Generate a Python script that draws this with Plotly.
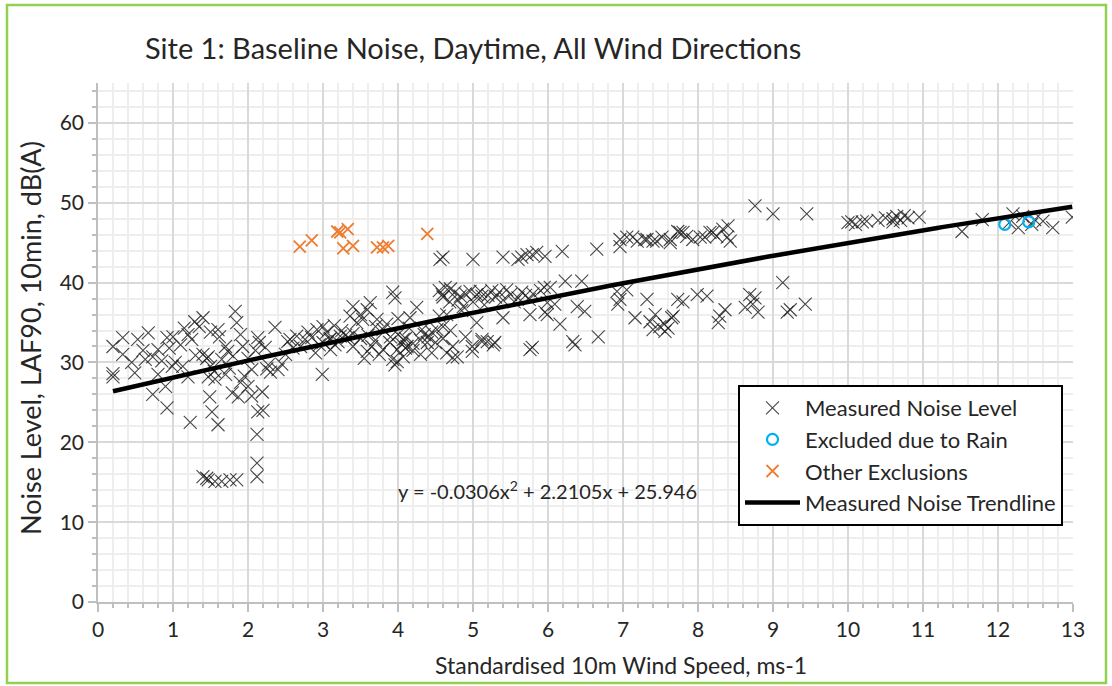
import numpy as np
import plotly.graph_objects as go

# ---------------- data ----------------
measured_x = [
    0.2, 0.2, 0.2, 0.33, 0.33, 0.49, 0.53, 0.67, 0.63, 0.73, 0.8, 0.73, 0.92, 0.92, 0.99, 0.9, 0.45, 0.6, 0.85, 0.95, 0.8, 1.0,
    1.03, 1.13, 1.23, 1.2, 1.29, 1.4, 1.25, 1.47, 1.47, 1.49, 1.52, 1.6, 1.6, 1.56, 1.65, 1.73, 1.83, 1.85, 1.93, 1.79, 1.87,
    2.0, 2.05, 2.13, 2.19, 2.13, 2.12, 2.12, 2.12, 2.27, 2.36, 2.23, 2.4, 2.53,
    1.4, 1.47, 1.56, 1.65, 1.76, 1.85, 1.45,
    1.3, 1.4, 1.45, 1.5, 1.55, 1.7, 1.75, 1.8, 1.35, 1.5, 1.1, 1.15, 1.9, 2.0, 2.1, 1.95, 2.25, 2.3, 2.45, 2.5, 1.62, 1.7,
    1.2, 2.05, 2.15, 1.9, 2.2,
    2.99, 2.56, 2.65, 2.76, 2.85, 2.92, 3.0, 3.05, 3.09, 3.16, 3.23, 3.33, 3.36, 3.4, 3.45, 3.53, 3.59, 3.63, 3.72, 3.8, 3.89,
    3.93, 3.96, 3.99, 4.07, 4.12, 4.16, 4.25, 4.32, 4.39, 4.45, 4.52, 3.99, 3.59, 3.8, 4.07, 3.93, 3.96,
    3.0, 3.1, 3.2, 3.3, 3.5, 3.6, 3.7, 3.9, 4.0, 4.1, 4.2, 4.3, 4.4, 4.5, 4.6,
    2.7, 2.8, 2.95, 3.15, 3.25, 3.4, 3.5, 3.7, 3.85, 4.0, 4.1, 4.2, 4.3, 4.35, 4.45, 4.15, 3.75, 3.65, 3.55, 4.05, 3.1, 3.4,
    2.6, 2.9,
    4.56, 4.6, 5.0, 4.59, 4.63, 4.69, 4.76, 4.83, 4.87, 4.96, 5.05, 5.12, 4.73, 4.79, 4.99, 5.12, 4.65, 4.73, 4.99, 5.12,
    5.27, 5.79, 5.19, 5.29, 5.76,
    4.55, 4.6, 4.7, 4.8, 4.9, 5.0, 5.1, 5.2, 5.3, 5.4, 5.5, 5.6, 5.7, 5.75, 5.8, 5.25, 5.35, 5.45, 5.55, 5.65, 4.85, 4.65, 5.15,
    5.4, 5.6, 5.65, 5.72, 5.79, 5.85, 5.96, 5.4, 5.76, 5.96, 5.99, 5.99, 5.9, 5.95, 4.6, 4.7, 4.9, 5.05, 4.55,
    6.19, 6.65, 6.03, 6.09, 6.16, 6.23, 6.39, 6.45, 6.49, 6.33, 6.36, 6.67, 6.92, 6.93, 7.05, 7.16, 7.32, 7.36, 7.43, 7.49,
    7.56, 7.65, 7.73, 7.4, 6.96,
    6.96, 6.96, 7.05, 7.13, 7.19, 7.29, 7.32, 7.4, 7.45, 7.52, 7.63, 7.63, 7.73, 7.76, 7.8, 7.85, 7.93, 8.03, 8.09, 8.16,
    8.2, 8.25, 8.33, 8.4, 8.43, 8.39,
    7.8, 7.99, 8.12, 7.67, 8.29, 8.27, 8.36, 8.63, 8.69, 8.76, 8.73, 8.8, 7.55, 7.6,
    8.76, 9.0, 9.45, 9.13, 9.19, 9.23, 9.43,
    10.05, 10.0, 10.1, 10.19, 10.25, 10.4, 10.5, 10.6, 10.65, 10.7, 10.8, 10.95, 10.6, 10.75,
    11.52, 11.79, 12.2, 12.27, 12.33, 12.49, 12.6, 12.73, 12.99, 12.45, 12.15,
]
measured_y = [
    28.2, 28.6, 32.0, 33.1, 31.0, 28.7, 32.9, 33.7, 30.4, 30.7, 31.6, 26.0, 24.3, 33.1, 29.5, 27.0, 30.0, 31.5, 30.2, 31.8, 28.5, 33.2,
    30.0, 29.5, 22.5, 33.5, 35.1, 35.6, 32.9, 30.7, 28.2, 25.7, 23.8, 22.2, 34.1, 27.9, 30.4, 31.4, 36.4, 35.0, 32.0, 26.2, 25.7,
    27.0, 29.1, 33.1, 26.3, 23.8, 21.0, 17.4, 15.7, 29.7, 34.4, 31.9, 29.1, 32.6,
    15.7, 15.3, 15.1, 15.1, 15.3, 15.3, 15.5,
    30.9, 31.0, 30.5, 29.5, 28.9, 28.5, 29.3, 30.8, 34.5, 33.8, 32.2, 34.3, 33.5, 30.5, 31.5, 28.3, 29.2, 28.8, 29.8, 31.0, 33.2, 32.0,
    28.2, 25.8, 32.5, 27.5, 24.0,
    28.5, 32.9, 33.3, 32.9, 33.1, 34.1, 34.5, 33.8, 32.9, 32.2, 33.3, 33.1, 35.8, 37.0, 35.0, 35.4, 36.6, 37.5, 35.4, 34.1, 32.5,
    38.8, 38.1, 31.6, 32.9, 32.0, 35.6, 36.9, 34.1, 32.5, 31.2, 34.1, 30.1, 31.4, 31.6, 30.7, 30.4, 29.7,
    32.5, 33.0, 32.6, 33.4, 33.0, 33.4, 32.8, 33.2, 33.5, 33.0, 32.4, 32.8, 33.2, 32.5, 33.0,
    32.0, 33.8, 32.2, 34.6, 34.0, 33.6, 36.0, 34.5, 34.8, 35.5, 31.8, 31.5, 31.0, 33.5, 33.8, 34.3, 31.0, 32.0, 30.5, 32.3, 31.6, 32.0,
    31.8, 31.2,
    42.9, 43.2, 42.9, 38.5, 39.4, 37.6, 38.8, 38.3, 37.0, 38.9, 38.5, 38.3, 32.0, 30.7, 32.0, 32.6, 31.2, 30.6, 31.4, 32.9,
    32.2, 31.9, 32.6, 32.5, 31.6,
    39.0, 38.2, 39.2, 37.8, 38.6, 37.6, 38.9, 38.4, 38.2, 37.8, 38.5, 38.1, 38.4, 37.9, 38.6, 39.0, 38.8, 39.1, 37.6, 38.8, 36.5, 36.0, 37.2,
    43.2, 42.9, 43.2, 43.5, 43.5, 43.8, 43.3, 35.6, 36.0, 36.3, 37.5, 36.0, 39.0, 39.4, 34.5, 34.0, 33.2, 35.0, 35.8,
    43.9, 44.2, 39.4, 37.3, 34.8, 40.2, 37.0, 40.2, 36.4, 32.6, 32.2, 33.2, 38.9, 37.3, 39.1, 35.6, 37.9, 35.1, 36.0, 34.5,
    33.9, 35.6, 37.9, 34.1, 37.9,
    45.4, 44.5, 45.7, 45.7, 45.2, 45.4, 45.4, 45.2, 45.2, 45.7, 45.0, 45.4, 46.4, 46.3, 46.3, 45.8, 45.4, 45.7, 45.7, 46.3,
    46.3, 45.8, 46.7, 47.1, 45.2, 45.7,
    37.6, 38.5, 38.3, 35.8, 35.8, 35.0, 36.6, 36.9, 38.5, 38.1, 37.3, 36.3, 34.8, 34.3,
    49.6, 48.6, 48.6, 40.0, 36.3, 36.6, 37.3,
    47.6, 47.5, 47.3, 47.6, 47.7, 47.8, 48.1, 48.0, 48.3, 47.8, 48.1, 48.2, 47.6, 48.4,
    46.4, 47.9, 48.6, 46.9, 48.3, 47.9, 47.7, 46.9, 48.2, 47.3, 47.5,
]

rain_x = [12.09, 12.41]
rain_y = [47.3, 47.6]

other_x = [2.69, 2.85, 3.19, 3.23, 3.33, 3.27, 3.4, 3.72, 3.8, 3.87, 4.39]
other_y = [44.5, 45.3, 46.4, 46.3, 46.7, 44.3, 44.6, 44.4, 44.4, 44.6, 46.1]

# polynomial trendline coefficients (as printed on the chart): a*x^2 + b*x + c
trend_coeffs = [-0.0306, 2.2105, 25.946]
equation_text = "y = -0.0306x<sup>2</sup> + 2.2105x + 25.946"

x_ticks = list(range(0, 14))
y_ticks = list(range(0, 61, 10))

title_text = "Site 1: Baseline Noise, Daytime, All Wind Directions"
x_title = "Standardised 10m Wind Speed, ms-1"
y_title = "Noise Level, LAF90, 10min, dB(A)"

# ---------------- figure ----------------
FONT = "Lato, Carlito, Calibri, sans-serif"
TXT = "#262626"
W, H = 1112, 686
L, R, T, B = 98, 39, 83, 84
pw, ph = W - L - R, H - T - B

def px_x(p):
    return (p - L) / pw

def px_y(p):
    return (H - B - p) / ph

trend_x = np.linspace(min(measured_x), max(measured_x), 200)
trend_y = np.polyval(trend_coeffs, trend_x)

fig = go.Figure()
fig.add_trace(go.Scatter(
    x=measured_x, y=measured_y, mode="markers", name="Measured Noise Level",
    marker=dict(symbol="x-thin", size=13, color="rgba(25,25,25,0.8)",
                line=dict(width=1.1, color="rgba(25,25,25,0.8)")),
))
fig.add_trace(go.Scatter(
    x=rain_x, y=rain_y, mode="markers", name="Excluded due to Rain",
    marker=dict(symbol="circle-open", size=11, color="#00b0f0",
                line=dict(width=2.2, color="#00b0f0")),
))
fig.add_trace(go.Scatter(
    x=other_x, y=other_y, mode="markers", name="Other Exclusions",
    marker=dict(symbol="x-thin", size=12, color="#ed7d31",
                line=dict(width=1.8, color="#ed7d31")),
))
fig.add_trace(go.Scatter(
    x=trend_x, y=trend_y, mode="lines", name="Measured Noise Trendline",
    line=dict(color="black", width=4.5),
))

axis_common = dict(
    showline=True, linecolor="#bfbfbf", linewidth=1.5,
    gridcolor="#d9d9d9", gridwidth=1.5,
    ticks="outside", tickcolor="#bfbfbf", tickwidth=1.5,
    tickfont=dict(family=FONT, size=21, color=TXT),
    zeroline=False, mirror=False,
)

fig.update_layout(
    width=W, height=H,
    margin=dict(l=L, r=R, t=T, b=B),
    paper_bgcolor="white", plot_bgcolor="white",
    font=dict(family=FONT, color=TXT),
    xaxis=dict(
        range=[0, 13], tickvals=x_ticks, ticklen=8,
        minor=dict(dtick=0.2, showgrid=True, gridcolor="#eeeeee", gridwidth=1.5,
                   ticks="outside", ticklen=4, tickcolor="#bfbfbf"),
        **axis_common,
    ),
    yaxis=dict(
        range=[0, 65], tickvals=y_ticks, ticklen=8,
        minor=dict(dtick=2, showgrid=True, gridcolor="#eeeeee", gridwidth=1.5,
                   ticks="outside", ticklen=4, tickcolor="#bfbfbf"),
        **axis_common,
    ),
    legend=dict(
        x=px_x(738), y=px_y(385), xanchor="left", yanchor="top",
        bgcolor="white", bordercolor="black", borderwidth=2,
        font=dict(family=FONT, size=22, color=TXT),
        itemwidth=55, tracegroupgap=0,
    ),
    showlegend=True,
)

fig.add_annotation(
    text=title_text, xref="paper", yref="paper",
    x=px_x(143), y=px_y(47), xanchor="left", yanchor="middle",
    showarrow=False, font=dict(family=FONT, size=29, color=TXT),
)
fig.add_annotation(
    text=x_title, xref="paper", yref="paper",
    x=px_x(621), y=px_y(665), xanchor="center", yanchor="middle",
    showarrow=False, font=dict(family=FONT, size=23, color=TXT),
)
fig.add_annotation(
    text=y_title, xref="paper", yref="paper", textangle=-90,
    x=px_x(30), y=px_y(338), xanchor="center", yanchor="middle",
    showarrow=False, font=dict(family=FONT, size=27, color=TXT),
)
fig.add_annotation(
    text=equation_text, xref="x", yref="y",
    x=5.99, y=14.0, xanchor="center", yanchor="middle",
    showarrow=False, font=dict(family=FONT, size=20, color=TXT),
)
# outer chart border (green)
fig.add_shape(
    type="rect", xref="paper", yref="paper",
    x0=px_x(7), x1=px_x(1106), y0=px_y(683), y1=px_y(5),
    line=dict(color="#92d050", width=2.5), fillcolor="rgba(0,0,0,0)", layer="below",
)

fig.write_html("out.html")
